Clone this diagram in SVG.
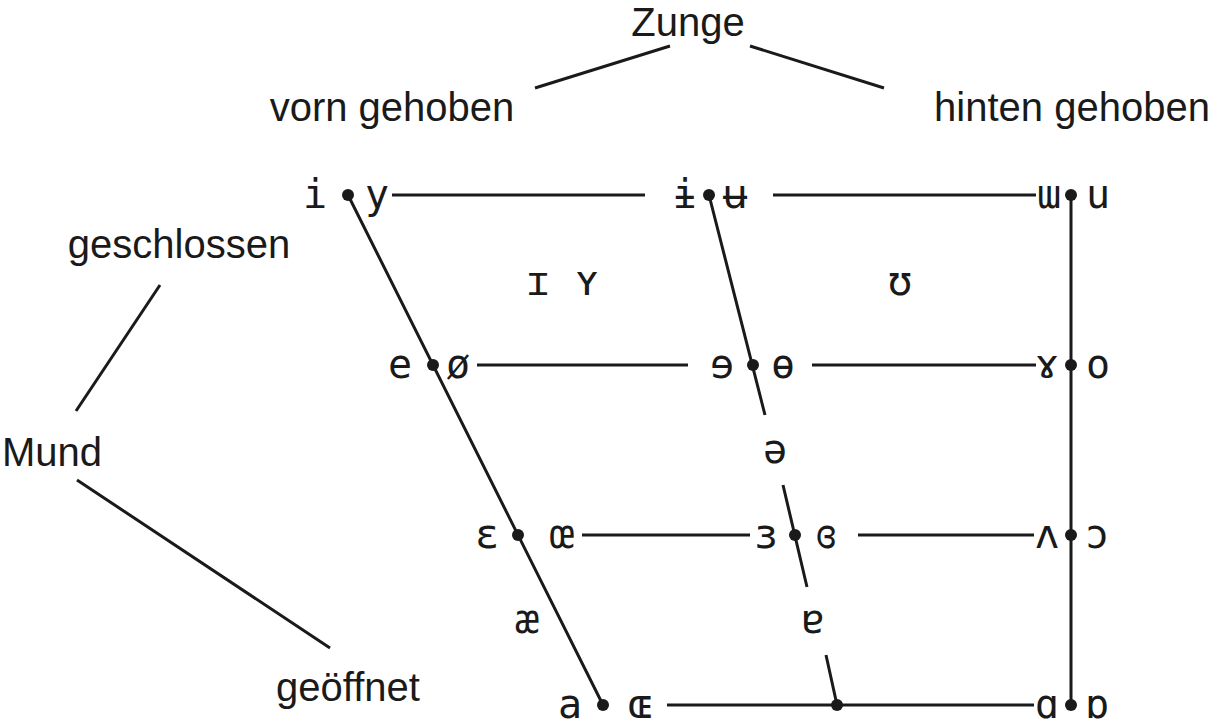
<svg xmlns="http://www.w3.org/2000/svg" width="1220" height="728" viewBox="0 0 1220 728">
<style>
.l{stroke:#1a1a1a;stroke-width:3;fill:none}
.t{font-family:"Liberation Sans",Arial,sans-serif;font-size:40px;fill:#1a1a1a;text-anchor:middle}
.p{font-family:"DejaVu Sans Mono",monospace;font-size:40px;fill:#1a1a1a;text-anchor:middle}
.d{fill:#1a1a1a}
</style>
<rect width="1220" height="728" fill="#fff"/>
<g id="connectors">
<path class="l" d="M535 88L670 46M750 46L884 88M160 285L76 411M77 480L330 648"/>
<path class="l" d="M348 195L603 705M709 195L765 415M783 485L807 587M826 655L837 705M1071 195L1071 705"/>
<path class="l" d="M392 195H645M773 195H1036M477 365H688M812 365H1036M582 535H750M858 535H1034M667 705H1034"/>
</g>
<g id="dots" class="d">
<circle cx="348" cy="195" r="6"/><circle cx="709" cy="195" r="6"/><circle cx="1071" cy="195" r="6"/>
<circle cx="433" cy="365" r="6"/><circle cx="753" cy="365" r="6"/><circle cx="1071" cy="365" r="6"/>
<circle cx="518" cy="535" r="6"/><circle cx="795" cy="535" r="6"/><circle cx="1071" cy="535" r="6"/>
<circle cx="603" cy="705" r="6"/><circle cx="837" cy="705" r="6"/><circle cx="1071" cy="705" r="6"/>
</g>
<g id="labels">
<text class="t" x="688" y="36">Zunge</text>
<text class="t" x="392" y="121">vorn gehoben</text>
<text class="t" x="1072" y="121">hinten gehoben</text>
<text class="t" x="179" y="258">geschlossen</text>
<text class="t" x="52" y="466">Mund</text>
<text class="t" x="348" y="701">geöffnet</text>
</g>
<g id="vowels">
<text class="p" x="315" y="208">i</text><text class="p" x="377" y="208">y</text>
<text class="p" x="685" y="208">ɨ</text><text class="p" x="735" y="208">ʉ</text>
<text class="p" x="1049" y="208">ɯ</text><text class="p" x="1098" y="208">u</text>
<text class="p" x="538" y="295">ɪ</text><text class="p" x="587" y="295">ʏ</text>
<text class="p" x="900" y="295">ʊ</text>
<text class="p" x="400" y="378">e</text><text class="p" x="458" y="378">ø</text>
<text class="p" x="722" y="378">ɘ</text><text class="p" x="783" y="378">ɵ</text>
<text class="p" x="1047" y="378">ɤ</text><text class="p" x="1098" y="378">o</text>
<text class="p" x="775" y="463">ə</text>
<text class="p" x="487" y="548">ɛ</text><text class="p" x="562" y="548">œ</text>
<text class="p" x="766" y="548">ɜ</text><text class="p" x="826" y="548">ɞ</text>
<text class="p" x="1047" y="548">ʌ</text><text class="p" x="1097" y="548">ɔ</text>
<text class="p" x="527" y="633">æ</text><text class="p" x="813" y="633">ɐ</text>
<text class="p" x="570" y="718">a</text><text class="p" x="640" y="718">ɶ</text>
<text class="p" x="1047" y="718">ɑ</text><text class="p" x="1097" y="718">ɒ</text>
</g>
</svg>
